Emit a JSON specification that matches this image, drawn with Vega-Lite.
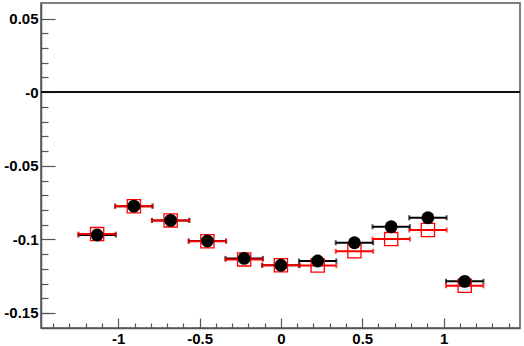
{
  "$schema": "https://vega.github.io/schema/vega-lite/v6.json",
  "width": 479,
  "height": 325,
  "autosize": {"type": "none"},
  "padding": {"left": 41, "top": 3, "right": 4, "bottom": 18},
  "background": "white",
  "config": {
    "view": {"stroke": "#555555", "strokeWidth": 1.5},
    "axis": {
      "grid": false,
      "domainColor": "#555555",
      "domainWidth": 1.5,
      "tickColor": "#555555",
      "tickWidth": 1.2,
      "labelFont": "Liberation Sans",
      "labelFontWeight": "bold",
      "labelFontSize": 15,
      "labelColor": "black",
      "title": null
    }
  },
  "data": {
    "values": [
      {"series": "black", "x": -1.13, "xlo": -1.245, "xhi": -1.015, "y": -0.0970},
      {"series": "black", "x": -0.904, "xlo": -1.019, "xhi": -0.789, "y": -0.0774},
      {"series": "black", "x": -0.678, "xlo": -0.793, "xhi": -0.563, "y": -0.0871},
      {"series": "black", "x": -0.452, "xlo": -0.567, "xhi": -0.337, "y": -0.1011},
      {"series": "black", "x": -0.226, "xlo": -0.341, "xhi": -0.111, "y": -0.1129},
      {"series": "black", "x": 0.0, "xlo": -0.115, "xhi": 0.115, "y": -0.1176},
      {"series": "black", "x": 0.226, "xlo": 0.111, "xhi": 0.341, "y": -0.1147},
      {"series": "black", "x": 0.452, "xlo": 0.337, "xhi": 0.567, "y": -0.1023},
      {"series": "black", "x": 0.678, "xlo": 0.563, "xhi": 0.793, "y": -0.0914},
      {"series": "black", "x": 0.904, "xlo": 0.789, "xhi": 1.019, "y": -0.0853},
      {"series": "black", "x": 1.13, "xlo": 1.015, "xhi": 1.245, "y": -0.1285},
      {"series": "red", "x": -1.13, "xlo": -1.245, "xhi": -1.015, "y": -0.0964},
      {"series": "red", "x": -0.904, "xlo": -1.019, "xhi": -0.789, "y": -0.0775},
      {"series": "red", "x": -0.678, "xlo": -0.793, "xhi": -0.563, "y": -0.0871},
      {"series": "red", "x": -0.452, "xlo": -0.567, "xhi": -0.337, "y": -0.1013},
      {"series": "red", "x": -0.226, "xlo": -0.341, "xhi": -0.111, "y": -0.1136},
      {"series": "red", "x": 0.0, "xlo": -0.115, "xhi": 0.115, "y": -0.1176},
      {"series": "red", "x": 0.226, "xlo": 0.111, "xhi": 0.341, "y": -0.1178},
      {"series": "red", "x": 0.452, "xlo": 0.337, "xhi": 0.567, "y": -0.1081},
      {"series": "red", "x": 0.678, "xlo": 0.563, "xhi": 0.793, "y": -0.0998},
      {"series": "red", "x": 0.904, "xlo": 0.789, "xhi": 1.019, "y": -0.0936},
      {"series": "red", "x": 1.13, "xlo": 1.015, "xhi": 1.245, "y": -0.1315}
    ]
  },
  "resolve": {"axis": {"x": "independent", "y": "independent"}},
  "layer": [
    {
      "mark": {"type": "rule", "color": "#111111", "strokeWidth": 1},
      "encoding": {
        "y": {"datum": 0, "type": "quantitative", "scale": {"domain": [-0.1602, 0.0606], "nice": false, "zero": false}, "axis": null}
      }
    },
    {
      "mark": {"type": "rule", "strokeWidth": 2},
      "encoding": {
        "x": {"field": "xlo", "type": "quantitative", "scale": {"domain": [-1.475, 1.47], "nice": false, "zero": false}, "axis": null},
        "x2": {"field": "xhi"},
        "y": {"field": "y", "type": "quantitative", "axis": null},
        "color": {"field": "series", "type": "nominal", "scale": {"domain": ["black", "red"], "range": ["black", "red"]}, "legend": null}
      }
    },
    {
      "mark": {"type": "tick", "orient": "vertical", "size": 5, "thickness": 2},
      "encoding": {
        "x": {"field": "xlo", "type": "quantitative", "axis": null},
        "y": {"field": "y", "type": "quantitative", "axis": null},
        "color": {"field": "series", "type": "nominal", "legend": null}
      }
    },
    {
      "mark": {"type": "tick", "orient": "vertical", "size": 5, "thickness": 2},
      "encoding": {
        "x": {"field": "xhi", "type": "quantitative", "axis": null},
        "y": {"field": "y", "type": "quantitative", "axis": null},
        "color": {"field": "series", "type": "nominal", "legend": null}
      }
    },
    {
      "transform": [{"filter": "datum.series == 'red'"}],
      "mark": {"type": "point", "shape": "square", "filled": false, "stroke": "red", "strokeWidth": 1.3, "size": 175, "opacity": 1},
      "encoding": {
        "x": {"field": "x", "type": "quantitative", "axis": {"orient": "bottom", "values": [-1.4,-1.3,-1.2,-1.1,-0.9,-0.8,-0.7,-0.6,-0.4,-0.3,-0.2,-0.1,0.1,0.2,0.3,0.4,0.6,0.7,0.8,0.9,1.1,1.2,1.3,1.4], "labels": false, "tickSize": -5, "domain": false}},
        "y": {"field": "y", "type": "quantitative", "axis": {"orient": "left", "values": [-0.15,-0.14,-0.13,-0.12,-0.11,-0.09,-0.08,-0.07,-0.06,-0.04,-0.03,-0.02,-0.01,0.01,0.02,0.03,0.04], "labels": false, "tickSize": -7, "domain": false}}
      }
    },
    {
      "transform": [{"filter": "datum.series == 'black'"}],
      "mark": {"type": "point", "shape": "circle", "filled": true, "color": "black", "size": 165, "opacity": 1},
      "encoding": {
        "x": {"field": "x", "type": "quantitative", "axis": {"orient": "bottom", "values": [-1, -0.5, 0, 0.5, 1], "tickSize": -10, "labelPadding": 13, "labelExpr": "'' + datum.value"}},
        "y": {"field": "y", "type": "quantitative", "axis": {"orient": "left", "values": [-0.15, -0.1, -0.05, 0, 0.05], "tickSize": -14, "labelPadding": 17, "labelExpr": "datum.value == 0 ? '-0' : '' + datum.value"}}
      }
    }
  ]
}
